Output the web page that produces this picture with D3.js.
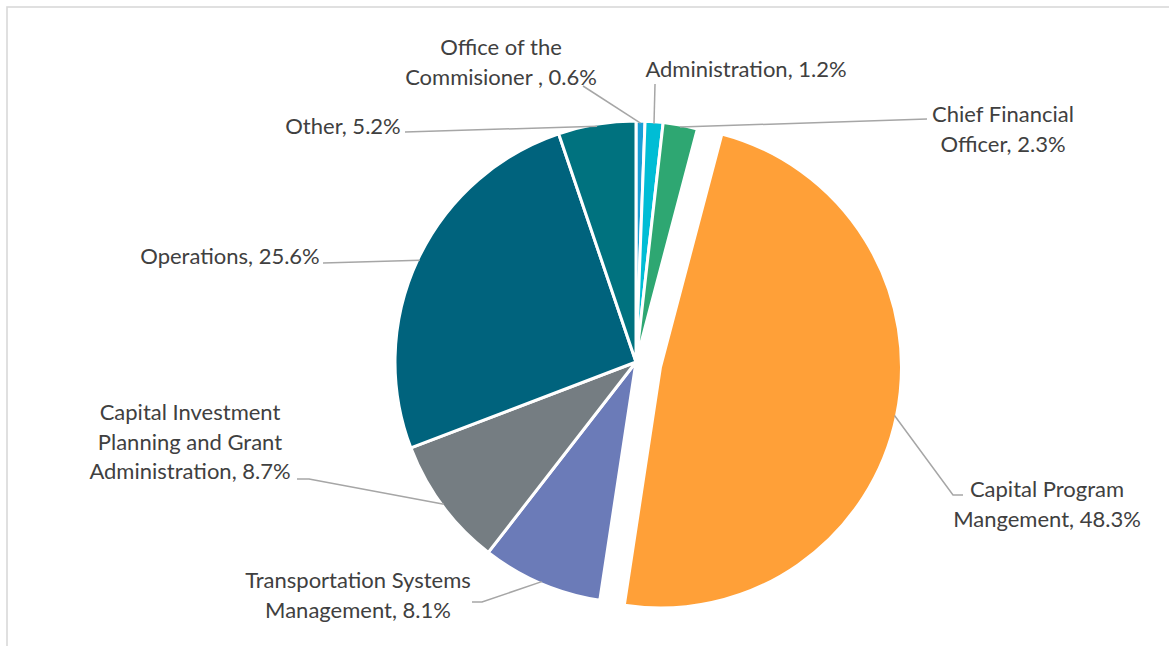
<!DOCTYPE html>
<html>
<head>
<meta charset="utf-8">
<script src="https://cdn.jsdelivr.net/npm/d3@7/dist/d3.min.js"></script>
<style>
  html, body { margin: 0; padding: 0; background: #ffffff; }
  svg { display: block; }
</style>
</head>
<body>
<svg id="chart" width="1169" height="646"></svg>
<script>
// Budget share by division (percent of total)
const categories = [
  "Office of the\nCommisioner ",
  "Administration",
  "Chief Financial\nOfficer",
  "Capital Program\nMangement",
  "Transportation Systems\nManagement",
  "Capital Investment\nPlanning and Grant\nAdministration",
  "Operations",
  "Other"
];
const shares = [0.6, 1.2, 2.3, 48.3, 8.1, 8.7, 25.6, 5.2];
const sliceColors = ["#1a9fd6", "#00bdd5", "#2ea772", "#ffa038", "#6b7bb8", "#757d82", "#00637d", "#00727f"];
const explodedIndex = 3;

// Label placement: text anchor, first baseline, and leader-line bends
const labelLayout = [
  { x: 501, y: 55, anchor: "middle", leader: [[583, 86]] },
  { x: 746, y: 77, anchor: "middle", leader: [[655, 84]] },
  { x: 1003, y: 122, anchor: "middle", leader: [[927, 119]] },
  { x: 1047, y: 497, anchor: "middle", leader: [[953, 495], [963, 495]] },
  { x: 358, y: 588, anchor: "middle", leader: [[482, 602], [472, 602]] },
  { x: 190, y: 420, anchor: "middle", leader: [[309, 479], [297, 479]] },
  { x: 230, y: 264, anchor: "middle", leader: [[323, 263]] },
  { x: 343, y: 134, anchor: "middle", leader: [[405, 132]] }
];

const svg = d3.select("#chart");
const W = 1169, H = 646;
const cx = 636, cy = 362, radius = 241, explodeBy = 25;
const fontFamily = "Lato, 'Open Sans', sans-serif";
const fontSize = 22;
const lineGap = 29.5;

// chart frame
svg.append("rect")
  .attr("x", 7).attr("y", 7)
  .attr("width", W + 20).attr("height", H + 20)
  .attr("fill", "none")
  .attr("stroke", "#d9d9d9")
  .attr("stroke-width", 1.6);

const pie = d3.pie().sort(null).value(d => d).startAngle(0).endAngle(2 * Math.PI);
const arcs = pie(shares);
const arc = d3.arc().innerRadius(0).outerRadius(radius);

function offsetOf(i) {
  if (i !== explodedIndex) return [0, 0];
  const a = (arcs[i].startAngle + arcs[i].endAngle) / 2;
  return [Math.sin(a) * explodeBy, -Math.cos(a) * explodeBy];
}

const g = svg.append("g").attr("transform", `translate(${cx},${cy})`);

g.selectAll("path.slice")
  .data(arcs)
  .join("path")
  .attr("class", "slice")
  .attr("d", arc)
  .attr("transform", (d, i) => { const o = offsetOf(i); return `translate(${o[0]},${o[1]})`; })
  .attr("fill", (d, i) => sliceColors[i])
  .attr("stroke", "#ffffff")
  .attr("stroke-width", 3)
  .attr("stroke-linejoin", "round");

// leader lines from slice edge midpoint to the label
const line = d3.line();
arcs.forEach((d, i) => {
  const a = (d.startAngle + d.endAngle) / 2;
  const o = offsetOf(i);
  const start = [cx + o[0] + Math.sin(a) * (radius - 2), cy + o[1] - Math.cos(a) * (radius - 2)];
  const pts = [start].concat(labelLayout[i].leader);
  svg.append("path")
    .attr("d", line(pts))
    .attr("fill", "none")
    .attr("stroke", "#a6a6a6")
    .attr("stroke-width", 1.5);
});

// data labels
arcs.forEach((d, i) => {
  const text = categories[i] + ", " + shares[i].toFixed(1) + "%";
  const lines = text.split("\n");
  const lay = labelLayout[i];
  const t = svg.append("text")
    .attr("font-family", fontFamily)
    .attr("font-size", fontSize)
    .attr("fill", "#404040")
    .attr("text-anchor", lay.anchor);
  lines.forEach((ln, k) => {
    t.append("tspan")
      .attr("x", lay.x)
      .attr("y", lay.y + k * lineGap)
      .attr("xml:space", "preserve")
      .style("white-space", "pre")
      .text(ln);
  });
});
</script>
</body>
</html>
